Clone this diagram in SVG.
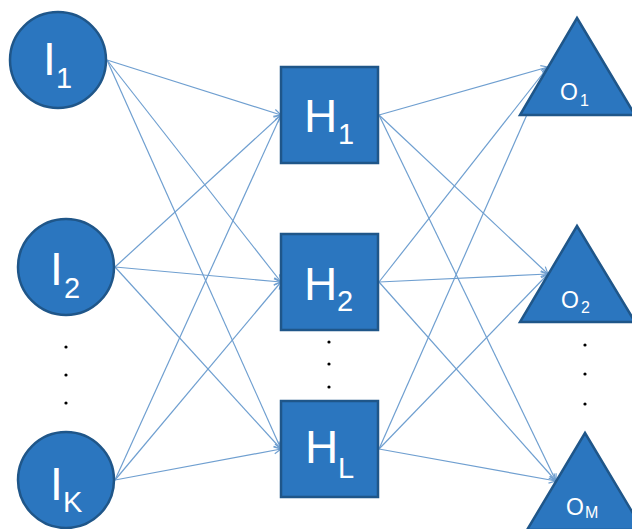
<svg xmlns="http://www.w3.org/2000/svg" width="632" height="529" viewBox="0 0 632 529">
<defs>
<marker id="arr" markerWidth="10" markerHeight="10" refX="8" refY="4" orient="auto" markerUnits="userSpaceOnUse">
<path d="M1,0.5 L8,4 L1,7.5" fill="none" stroke="#6f9fd0" stroke-width="1.2"/>
</marker>
<style>
.n{fill:#2b76bf;stroke:#1f5689;stroke-width:2.5}
.c line{stroke:#6f9fd0;stroke-width:1.2;marker-end:url(#arr)}
.t{fill:#ffffff;font-family:"Liberation Sans",Arial,sans-serif}
.big{font-size:46px}
.sub{font-size:29px}
.os{font-size:23px}
.oss{font-size:16px}
.dot{fill:#000}
</style>
</defs>
<rect width="632" height="529" fill="#fff"/>
<g class="c" id="connectors">
<line x1="107" y1="60" x2="281" y2="115"/>
<line x1="107" y1="60" x2="281" y2="282"/>
<line x1="107" y1="60" x2="281" y2="449"/>
<line x1="115" y1="267" x2="281" y2="115"/>
<line x1="115" y1="267" x2="281" y2="282"/>
<line x1="115" y1="267" x2="281" y2="449"/>
<line x1="115" y1="480" x2="281" y2="115"/>
<line x1="115" y1="480" x2="281" y2="282"/>
<line x1="115" y1="480" x2="281" y2="449"/>
<line x1="379" y1="115" x2="548" y2="67"/>
<line x1="379" y1="115" x2="548" y2="274"/>
<line x1="379" y1="115" x2="556" y2="481"/>
<line x1="379" y1="282" x2="548" y2="67"/>
<line x1="379" y1="282" x2="548" y2="274"/>
<line x1="379" y1="282" x2="556" y2="481"/>
<line x1="379" y1="449" x2="548" y2="67"/>
<line x1="379" y1="449" x2="548" y2="274"/>
<line x1="379" y1="449" x2="556" y2="481"/>
</g>
<g id="I1"><circle class="n" cx="58" cy="60" r="48"/><text class="t big" x="43" y="75">I</text><text class="t sub" x="56" y="88">1</text></g>
<g id="I2"><circle class="n" cx="66" cy="267" r="48"/><text class="t big" x="50" y="285">I</text><text class="t sub" x="64" y="298">2</text></g>
<g id="IK"><circle class="n" cx="66" cy="480" r="48"/><text class="t big" x="50" y="500">I</text><text class="t sub" x="63" y="512">K</text></g>
<g id="H1"><rect class="n" x="281" y="67" width="97" height="96"/><text class="t big" x="304" y="132">H</text><text class="t sub" x="338" y="144">1</text></g>
<g id="H2"><rect class="n" x="281" y="234" width="97" height="96"/><text class="t big" x="304" y="300">H</text><text class="t sub" x="337" y="311">2</text></g>
<g id="HL"><rect class="n" x="281" y="401" width="97" height="96"/><text class="t big" x="305" y="463">H</text><text class="t sub" x="338" y="478">L</text></g>
<g id="O1"><polygon class="n" points="577,18 635,115 520,115"/><text class="t os" x="560" y="100">O</text><text class="t oss" x="580" y="106">1</text></g>
<g id="O2"><polygon class="n" points="577,226 635,322 520,322"/><text class="t os" x="561" y="308">O</text><text class="t oss" x="581" y="313">2</text></g>
<g id="OM"><polygon class="n" points="585,433 643,530 527,530"/><text class="t os" x="566" y="515">O</text><text class="t oss" x="585" y="518">M</text></g>
<g id="dots">
<circle class="dot" cx="66" cy="347" r="1.6"/><circle class="dot" cx="66" cy="375" r="1.6"/><circle class="dot" cx="66" cy="403" r="1.6"/>
<circle class="dot" cx="329" cy="342" r="1.6"/><circle class="dot" cx="329" cy="364" r="1.6"/><circle class="dot" cx="329" cy="387" r="1.6"/>
<circle class="dot" cx="585" cy="345" r="1.6"/><circle class="dot" cx="585" cy="374" r="1.6"/><circle class="dot" cx="585" cy="404" r="1.6"/>
</g>
</svg>
